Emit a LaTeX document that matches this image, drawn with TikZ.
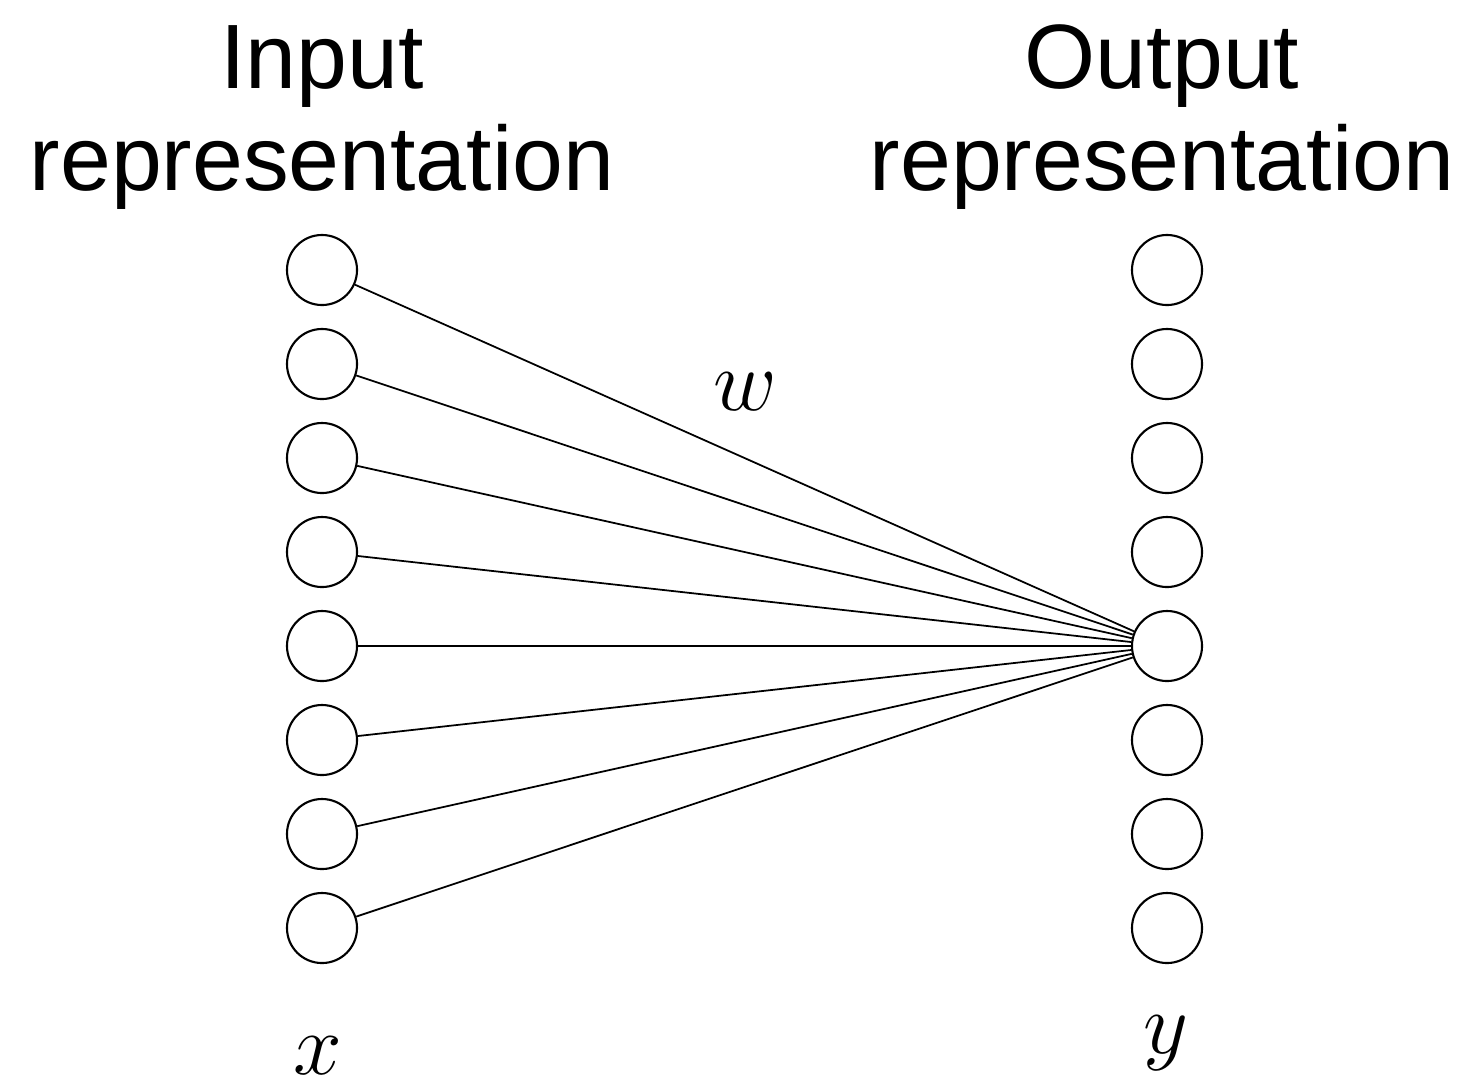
\documentclass[tikz,border=0pt]{standalone}
\usepackage{fontspec}
\setmainfont{Liberation Sans}
\begin{document}
\begin{tikzpicture}[x=0.01cm,y=-0.01cm,
  unit/.style={circle,draw,line width=0.6pt,minimum size=0.7cm,inner sep=0pt},
  conn/.style={line width=0.5pt},
  title/.style={anchor=base,inner sep=0pt,font=\fontsize{26}{30}\selectfont},
  mathlbl/.style={anchor=base,inner sep=0pt,font=\fontsize{27}{32}\selectfont}]
\useasboundingbox (0,0) rectangle (1473,1087);
\foreach \i in {1,...,8} {
  \node[unit] (in\i) at (322,{270+94*(\i-1)}) {};
  \node[unit] (out\i) at (1167,{270+94*(\i-1)}) {};
}
\foreach \i in {1,...,8} {
  \draw[conn] (in\i) -- (out5);
}
\node[title] (t1) at (322,88) {Input};
\node[title] (t2) at (322,190) {representation};
\node[title] (t3) at (1162,88) {Output};
\node[title] (t4) at (1162,190) {representation};
\node[mathlbl] (lw) at (745,410) {$w$};
\node[mathlbl] (lx) at (318,1074) {$x$};
\node[mathlbl] (ly) at (1166,1053) {$y$};
\end{tikzpicture}
\end{document}
